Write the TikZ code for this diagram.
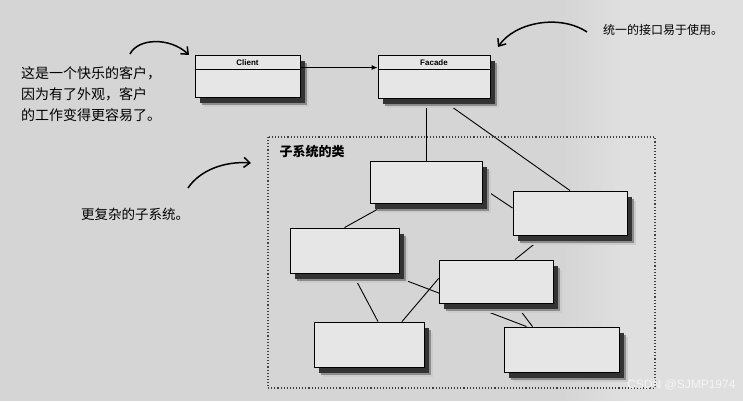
\documentclass[tikz,border=0pt]{standalone}
\usepackage{fontspec}
\usepackage{tikz}
\usetikzlibrary{arrows.meta}
\newfontfamily\cjk{Noto Sans CJK SC}
\newfontfamily\umlfont{Liberation Sans}
\pgfdeclarelayer{paper}
\pgfdeclarelayer{links}
\pgfsetlayers{paper,links,main}
\definecolor{paperbg}{HTML}{D5D5D5}
\definecolor{paperlight}{HTML}{DFDFDF}
\definecolor{boxbg}{HTML}{E6E6E6}

\begin{document}
\begin{tikzpicture}[x=1pt,y=-1pt,
    cls/.style={draw,line width=0.9pt,fill=boxbg,inner sep=0pt,
      preaction={fill=black!20,transform canvas={xshift=9pt,yshift=-10pt}},
      preaction={fill=black!45,transform canvas={xshift=7pt,yshift=-8pt}},
      preaction={fill=black!80,transform canvas={xshift=5pt,yshift=-6pt}}},
    link/.style={line width=0.9pt},
    note/.style={font=\cjk\fontsize{14}{21}\selectfont,align=left,inner sep=0pt},
    hand/.style={line width=1.5pt,-{Straight Barb[length=6pt,width=10pt]}},
    umltext/.style={font=\umlfont\bfseries\fontsize{8}{8}\selectfont}]
  \useasboundingbox (0,0) rectangle (743,401);
  \begin{pgfonlayer}{paper}
    \fill[paperbg] (0,0) rectangle (743,401);
    \foreach \i in {0,...,9}
      \fill[paperlight!\the\numexpr\i*10\relax!paperbg] (560+6*\i,0) rectangle (566+6*\i,401);
    \fill[paperlight] (620,0) rectangle (743,401);
  \end{pgfonlayer}

  % client and facade
  \node[cls,minimum width=105pt,minimum height=42pt] (client) at (247.5,76) {};
  \node[cls,minimum width=112pt,minimum height=43pt] (facade) at (434,76.5) {};
  \draw[line width=0.8pt] ([yshift=-15pt]client.north west) -- ([yshift=-15pt]client.north east);
  \draw[line width=0.8pt] ([yshift=-15pt]facade.north west) -- ([yshift=-15pt]facade.north east);
  \node[umltext] at ([yshift=-8pt]client.north) {Client};
  \node[umltext] at ([yshift=-8pt]facade.north) {Facade};
  \draw[link,-{Latex[length=6pt,width=5pt]}] ([yshift=-13pt]client.north east) -- ([yshift=-13pt]facade.north west);

  % subsystem
  \draw[dotted,line width=1.1pt,black!75] (268,137) rectangle (655,388);
  \node[anchor=west,font=\cjk\bfseries\fontsize{13}{13}\selectfont] (title) at (276,152) {子系统的类};
  \node[cls,minimum width=112pt,minimum height=42pt] (a) at (426,182) {};
  \node[cls,minimum width=114pt,minimum height=44pt] (b) at (570,213) {};
  \node[cls,minimum width=109pt,minimum height=45pt] (c) at (344.5,250.5) {};
  \node[cls,minimum width=114pt,minimum height=43pt] (d) at (496,281.5) {};
  \node[cls,minimum width=110pt,minimum height=45pt] (e) at (369,344.5) {};
  \node[cls,minimum width=115pt,minimum height=45pt] (f) at (561.5,349.5) {};

  \begin{pgfonlayer}{links}
    \draw[link] (a.north |- facade.south) -- (a.north);
    \draw[link] ([xshift=6pt]facade.south) -- (b.north);
    \draw[link] ([yshift=-6pt]a.east) -- ([yshift=5pt]b.west);
    \draw[link] ([xshift=-38pt]a.south) -- (c.north);
    \draw[link] ([xshift=-25pt]b.south) -- ([xshift=19pt]d.north);
    \draw[link] ([xshift=8pt]c.south) -- ([xshift=9pt]e.north);
    \draw[link] ([xshift=43pt]c.south) -- ([xshift=-35pt]f.north);
    \draw[link] ([yshift=3pt]d.west) -- ([xshift=33pt]e.north);
    \draw[link] ([xshift=19pt]d.south) -- ([xshift=-29pt]f.north);
  \end{pgfonlayer}

  % notes
  \node[note,anchor=north west] (happy) at (21,66) {这是一个快乐的客户，\\因为有了外观，客户\\的工作变得更容易了。};
  \node[note,font=\cjk\fontsize{12}{12}\selectfont] (easy) at (663,30) {统一的接口易于使用。};
  \node[note,font=\cjk\fontsize{13.5}{13.5}\selectfont] (complex) at (135,214) {更复杂的子系统。};
  \coordinate (tip1) at (189,55);
  \coordinate (tip2) at (498,47);
  \coordinate (tip3) at (251,163);
  \draw[hand] (130,54) .. controls (138,38) and (170,37) .. (tip1);
  \draw[hand] (587,32) .. controls (560,14) and (515,22) .. (tip2);
  \draw[hand] (188,188) .. controls (200,170) and (225,161) .. (tip3);

  \node[font=\umlfont\fontsize{12}{12}\selectfont,text=white!96!black,anchor=east] (mark) at (739,385) {CSDN @SJMP1974};
\end{tikzpicture}
\end{document}
